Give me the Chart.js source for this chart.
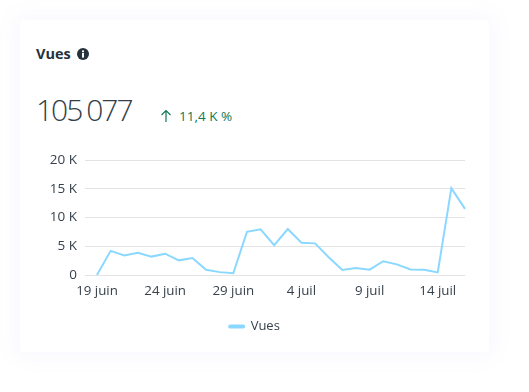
<!DOCTYPE html>
<html lang="fr">
<head>
<meta charset="utf-8">
<title>Vues</title>
<script src="https://cdn.jsdelivr.net/npm/chart.js@4/dist/chart.umd.min.js"></script>
<style>
    html, body { margin: 0; padding: 0; width: 529px; height: 392px; overflow: hidden; background: #fff; }
    body { font-family: "Open Sans", sans-serif; color: #25313d; position: relative; }
    #card {
        position: absolute; left: 20px; top: 20px; width: 469px; height: 332px;
        background: #fff; border-radius: 4px;
        box-shadow: 0 0 20px 6px rgba(130, 130, 255, 0.05);
    }
    #title { position: absolute; left: 36px; top: 44px; font-size: 14.5px; font-weight: 700; line-height: 20px; }
    #info { position: absolute; left: 77px; top: 48px; }
    #total { position: absolute; left: 36px; top: 90px; font-size: 30px; font-weight: 300; line-height: 40px; letter-spacing: -2px; word-spacing: -1px; color: #333e49; }
    #delta { position: absolute; left: 160px; top: 106px; font-size: 13.5px; line-height: 20px; color: #0f7a55; }
    #delta svg { position: absolute; left: 0; top: 3px; }
    #delta span { margin-left: 19px; }
    #wrap { position: absolute; left: 20px; top: 150px; width: 469px; height: 195px; }
</style>
</head>
<body>
<div id="card"></div>
<div id="title">Vues</div>
<svg id="info" width="12" height="12" viewBox="0 0 12 12">
    <circle cx="6" cy="6" r="6" fill="#25313d"/>
    <rect x="5" y="5" width="2" height="4.6" fill="#fff"/>
    <rect x="5" y="2.4" width="2" height="1.8" fill="#fff"/>
</svg>
<div id="total">105 077</div>
<div id="delta">
    <svg width="12" height="14" viewBox="0 0 12 14"><path d="M6 13V1.5M1.5 6L6 1.5L10.5 6" fill="none" stroke="#0f7a55" stroke-width="1.2"/></svg>
    <span>11,4 K %</span>
</div>
<div id="wrap"><canvas id="viewsChart"></canvas></div>

<script>
const days = [
    '19 juin', '20 juin', '21 juin', '22 juin', '23 juin', '24 juin', '25 juin',
    '26 juin', '27 juin', '28 juin', '29 juin', '30 juin', '1 juil', '2 juil',
    '3 juil', '4 juil', '5 juil', '6 juil', '7 juil', '8 juil', '9 juil',
    '10 juil', '11 juil', '12 juil', '13 juil', '14 juil', '15 juil', '16 juil'
];
const views = [
    0, 4200, 3400, 3850, 3200, 3700, 2550, 2950, 900, 500, 300, 7500, 7950, 5200,
    8000, 5600, 5500, 3100, 870, 1200, 930, 2400, 1850, 950, 930, 450, 15100, 11500
];
const yTicks = [0, 5000, 10000, 15000, 20000];

const textColor = '#36414c';
const lineColor = '#8ad8ff';
const gridColor = '#e3e3e3';

new Chart(document.getElementById('viewsChart'), {
    type: 'line',
    data: {
        labels: days,
        datasets: [{
            label: 'Vues',
            data: views,
            borderColor: lineColor,
            backgroundColor: lineColor,
            borderWidth: 2,
            pointRadius: 0,
            tension: 0
        }]
    },
    options: {
        responsive: true,
        maintainAspectRatio: false,
        animation: false,
        // left padding balances the right one so the legend stays centred on the card
        layout: { padding: { top: 10, right: 24, bottom: 2, left: 24 } },
        plugins: {
            legend: {
                position: 'bottom',
                labels: {
                    color: textColor,
                    font: { family: '"Open Sans"', size: 13 },
                    boxWidth: 15,
                    boxHeight: 2,
                    useBorderRadius: true,
                    borderRadius: 1,
                    padding: 10
                }
            },
            tooltip: { enabled: false }
        },
        scales: {
            x: {
                afterFit: function (scale) {
                    scale.height = 35;
                },
                grid: { display: false },
                border: { display: false },
                ticks: {
                    color: textColor,
                    font: { family: '"Open Sans"', size: 13.3 },
                    autoSkip: false,
                    maxRotation: 0,
                    padding: 0,
                    callback: function (value, index) {
                        return index % 5 === 0 ? days[index] : '';
                    }
                }
            },
            y: {
                min: 0,
                max: 20000,
                afterBuildTicks: function (scale) {
                    scale.ticks = yTicks.map(v => ({ value: v }));
                },
                afterFit: function (scale) {
                    scale.width = 53;
                    scale.paddingTop = 0;
                    scale.paddingBottom = 0;
                },
                grid: { color: gridColor, tickLength: 12 },
                border: { display: false },
                ticks: {
                    color: textColor,
                    font: { family: '"Open Sans"', size: 13.5 },
                    padding: 8,
                    callback: function (value) {
                        return value === 0 ? '0' : (value / 1000) + ' K';
                    }
                }
            }
        }
    }
});
</script>
</body>
</html>
